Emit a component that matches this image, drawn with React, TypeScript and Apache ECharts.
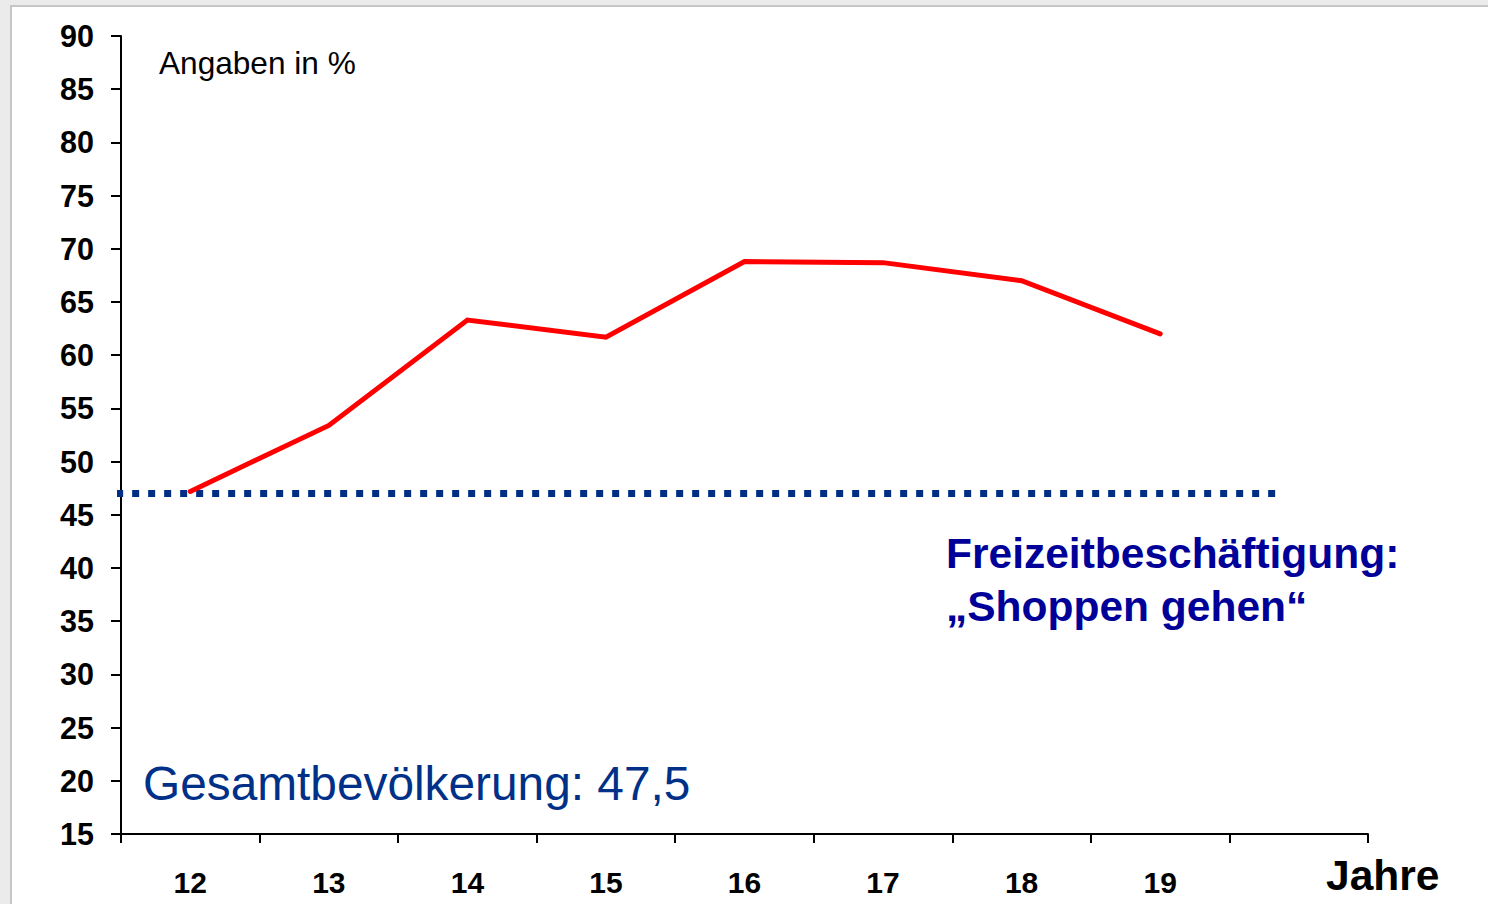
import React, { useEffect, useRef } from "react";
import * as echarts from "echarts";

const ageCategories = ["12", "13", "14", "15", "16", "17", "18", "19", ""];
const shoppingShare = [47.2, 53.4, 63.3, 61.7, 68.8, 68.7, 67.0, 62.0];
const populationValue = 47.0;
const populationLineExtent = [-0.035, 8.343];
const yTicks = { min: 15, max: 90, interval: 5 };

const FONT = "'Liberation Sans', Arial, Helvetica, sans-serif";

export default function App() {
  const ref = useRef<HTMLDivElement>(null);

  useEffect(() => {
    if (!ref.current) return;
    const chart = echarts.init(ref.current, null, { renderer: "svg" });
    const option: any = {
      animation: false,
      backgroundColor: "#ffffff",
      grid: { left: 121, top: 36, right: 120, bottom: 70, containLabel: false },
      xAxis: [
        {
          type: "category",
          data: ageCategories,
          boundaryGap: true,
          axisLine: { lineStyle: { color: "#000000", width: 2 } },
          axisTick: { show: true, length: 9, alignWithLabel: false, lineStyle: { color: "#000000", width: 2 } },
          axisLabel: {
            color: "#000000",
            fontFamily: FONT,
            fontWeight: "bold",
            fontSize: 30,
            margin: 33,
            interval: 0,
          },
          splitLine: { show: false },
        },
        {
          type: "value",
          min: 0,
          max: 9,
          show: false,
        },
      ],
      yAxis: {
        type: "value",
        min: yTicks.min,
        max: yTicks.max,
        interval: yTicks.interval,
        axisLine: { show: true, lineStyle: { color: "#000000", width: 2 } },
        axisTick: { show: true, length: 10, lineStyle: { color: "#000000", width: 2 } },
        axisLabel: {
          color: "#000000",
          fontFamily: FONT,
          fontWeight: "bold",
          fontSize: 30.5,
          margin: 27,
        },
        splitLine: { show: false },
      },
      series: [
        {
          type: "line",
          name: "Gesamtbevölkerung",
          xAxisIndex: 1,
          data: [
            [populationLineExtent[0], populationValue],
            [populationLineExtent[1], populationValue],
          ],
          symbol: "none",
          lineStyle: { color: "#002D86", width: 7, type: [7, 9], cap: "butt" },
          z: 2,
        },
        {
          type: "line",
          name: "Shoppen gehen",
          xAxisIndex: 0,
          data: shoppingShare,
          symbol: "none",
          lineStyle: { color: "#ff0000", width: 5, cap: "round", join: "miter" },
          z: 3,
        },
      ],
      graphic: [
        { type: "rect", shape: { x: 0, y: 0, width: 1488, height: 5 }, style: { fill: "#ebebeb" }, z: -10 },
        { type: "rect", shape: { x: 0, y: 0, width: 10, height: 904 }, style: { fill: "#ebebeb" }, z: -10 },
        { type: "rect", shape: { x: 10, y: 5, width: 1478, height: 2 }, style: { fill: "#c6c6c6" }, z: -9 },
        { type: "rect", shape: { x: 10, y: 5, width: 2, height: 899 }, style: { fill: "#c6c6c6" }, z: -9 },
        {
          type: "text",
          x: 159,
          y: 63,
          style: {
            text: "Angaben in %",
            fontFamily: FONT,
            fontSize: 31.6,
            fill: "#000000",
            verticalAlign: "middle",
          },
        },
        {
          type: "text",
          x: 143,
          y: 783,
          style: {
            text: "Gesamtbevölkerung: 47,5",
            fontFamily: FONT,
            fontSize: 47.8,
            fill: "#003087",
            verticalAlign: "middle",
          },
        },
        {
          type: "text",
          x: 946,
          y: 553,
          style: {
            text: "Freizeitbeschäftigung:",
            fontFamily: FONT,
            fontSize: 42.5,
            fontWeight: "bold",
            fill: "#000099",
            verticalAlign: "middle",
          },
        },
        {
          type: "text",
          x: 946,
          y: 606,
          style: {
            text: "„Shoppen gehen“",
            fontFamily: FONT,
            fontSize: 42.5,
            fontWeight: "bold",
            fill: "#000099",
            verticalAlign: "middle",
          },
        },
        {
          type: "text",
          x: 1326,
          y: 875,
          style: {
            text: "Jahre",
            fontFamily: FONT,
            fontSize: 42.5,
            fontWeight: "bold",
            fill: "#000000",
            verticalAlign: "middle",
          },
        },
      ],
    };
    chart.setOption(option);
    return () => chart.dispose();
  }, []);

  return (
    <div
      ref={ref}
      style={{ position: "fixed", left: 0, top: 0, width: 1488, height: 904, background: "#ffffff" }}
    />
  );
}
